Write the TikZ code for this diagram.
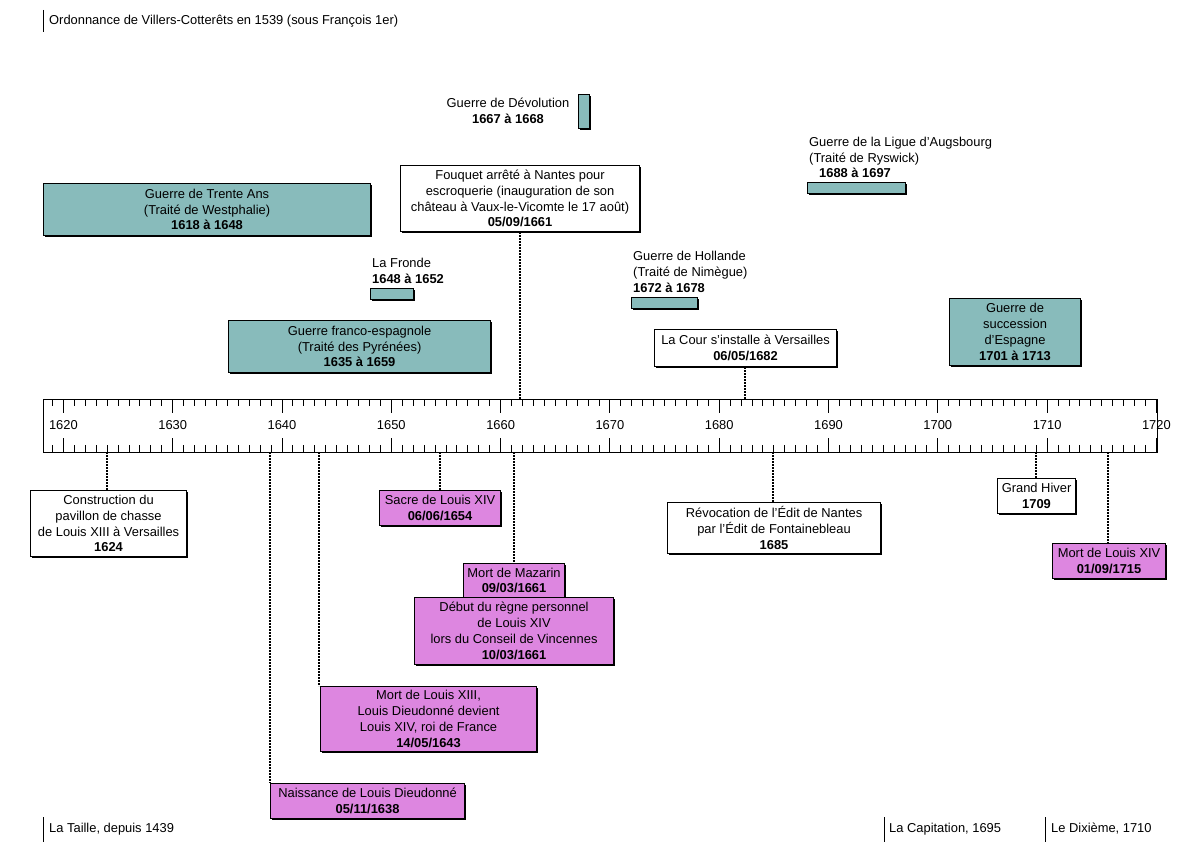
\documentclass[tikz,border=0pt]{standalone}
\usepackage{fontspec}
\setmainfont{Liberation Sans}
\usetikzlibrary{shadows}
\definecolor{tealbar}{RGB}{136,187,187}
\definecolor{pinkbox}{RGB}{221,134,224}
\newcommand{\frtxt}{\fontsize{12.9}{15.8}\selectfont}
\begin{document}
\begin{tikzpicture}[x=1pt,y=-1pt,
  evbox/.style={draw=black, line width=1.1pt, align=center, inner sep=0pt, anchor=north west, font=\frtxt,
    drop shadow={shadow xshift=1.2pt, shadow yshift=-1.2pt, fill=black, opacity=1}},
  wbox/.style={evbox, fill=white},
  tbox/.style={evbox, fill=tealbar},
  pbox/.style={evbox, fill=pinkbox},
  lbl/.style={inner sep=0pt, font=\frtxt, align=left},
  link/.style={line width=1.3pt, dash pattern=on 1.6pt off 1.4pt},
  axtick/.style={line width=0.9pt},
  notetxt/.style={inner sep=0pt, font=\frtxt, anchor=west},
  notebar/.style={line width=1pt}]
\useasboundingbox[fill=white] (0,0) rectangle (1200,850);

% notes
\node[notetxt] (ordo) at (49,21) {Ordonnance de Villers-Cotterêts en 1539 (sous François 1er)};
\draw[notebar] (43,10) -- (43,32);
\node[notetxt] (taille) at (49,829) {La Taille, depuis 1439};
\draw[notebar] (43,817) -- (43,842);
\node[notetxt] (capit) at (889,829) {La Capitation, 1695};
\draw[notebar] (884,817) -- (884,842);
\node[notetxt] (dixieme) at (1051,829) {Le Dixième, 1710};
\draw[notebar] (1045,817) -- (1045,842);

% axis
\node[draw, line width=1.2pt, minimum width=1114pt, minimum height=53pt, anchor=north west, inner sep=0pt] (axis) at (43,399) {};
\foreach \yr in {1619,...,1719}{
  \pgfmathsetmacro\xx{63.4+(\yr-1620)*10.93}
  \draw[axtick] (\xx,399) -- (\xx,406);
  \draw[axtick] (\xx,452) -- (\xx,445);
}
\foreach \yr in {1620,1630,...,1720}{
  \pgfmathsetmacro\xx{63.4+(\yr-1620)*10.93}
  \draw[axtick] (\xx,399) -- (\xx,413);
  \draw[axtick] (\xx,452) -- (\xx,438);
  \node[font=\frtxt, inner sep=0pt] (yl\yr) at (\xx,425.5) {\yr};
}

% wars (above)
\node[tbox, minimum width=327pt, minimum height=52pt] (trente) at (43,183) {Guerre de Trente Ans\\(Traité de Westphalie)\\\textbf{1618 à 1648}};
\node[tbox, minimum width=43pt, minimum height=11pt] (fronde) at (370,288) {};
\node[lbl, anchor=west] (frondelbl) at (372,270.5) {La Fronde\\\textbf{1648 à 1652}};
\node[tbox, minimum width=262pt, minimum height=52pt] (francoesp) at (228,320) {Guerre franco-espagnole\\(Traité des Pyrénées)\\\textbf{1635 à 1659}};
\node[tbox, minimum width=11pt, minimum height=34pt] (devol) at (578,94) {};
\node[lbl, align=center] (devollbl) at (508,111) {Guerre de Dévolution\\\textbf{1667 à 1668}};
\node[wbox, minimum width=239pt, minimum height=66pt] (fouquet) at (400,165) {Fouquet arrêté à Nantes pour\\escroquerie (inauguration de son\\château à Vaux-le-Vicomte le 17 août)\\\textbf{05/09/1661}};
\node[tbox, minimum width=66pt, minimum height=11pt] (hollande) at (631,297) {};
\node[lbl, anchor=west] (hollandelbl) at (633,272) {Guerre de Hollande\\(Traité de Nimègue)\\\textbf{1672 à 1678}};
\node[wbox, minimum width=182pt, minimum height=37pt] (cour) at (654,329) {La Cour s'installe à Versailles\\\textbf{06/05/1682}};
\node[tbox, minimum width=98pt, minimum height=11pt] (ligue) at (807,182) {};
\node[lbl, anchor=west] (liguelbl) at (809,157.5) {Guerre de la Ligue d'Augsbourg\\(Traité de Ryswick)\\\hspace*{10pt}\textbf{1688 à 1697}};
\node[tbox, minimum width=131pt, minimum height=67pt] (succ) at (949,298) {Guerre de\\succession\\d'Espagne\\\textbf{1701 à 1713}};

% events (below)
\node[wbox, minimum width=156pt, minimum height=66pt] (constr) at (30,490) {Construction du\\pavillon de chasse\\de Louis XIII à Versailles\\\textbf{1624}};
\node[pbox, minimum width=121pt, minimum height=35pt] (sacre) at (379,490) {Sacre de Louis XIV\\\textbf{06/06/1654}};
\node[pbox, minimum width=101pt, minimum height=34pt] (mazarin) at (463,563) {Mort de Mazarin\\\textbf{09/03/1661}};
\node[pbox, minimum width=199pt, minimum height=67pt] (debut) at (414,597) {Début du règne personnel\\de Louis XIV\\lors du Conseil de Vincennes\\\textbf{10/03/1661}};
\node[pbox, minimum width=216pt, minimum height=65pt] (louis13) at (320,686) {Mort de Louis XIII,\\Louis Dieudonné devient\\Louis XIV, roi de France\\\textbf{14/05/1643}};
\node[pbox, minimum width=194pt, minimum height=35pt] (naiss) at (270,783) {Naissance de Louis Dieudonné\\\textbf{05/11/1638}};
\node[wbox, minimum width=213pt, minimum height=51pt] (revoc) at (667,502) {Révocation de l'Édit de Nantes\\par l'Édit de Fontainebleau\\\textbf{1685}};
\node[wbox, minimum width=78pt, minimum height=35pt] (hiver) at (997,478) {Grand Hiver\\\textbf{1709}};
\node[pbox, minimum width=113pt, minimum height=35pt] (mort14) at (1052,543) {Mort de Louis XIV\\\textbf{01/09/1715}};

% axis anchor points
\coordinate (t1661) at (520,399);
\coordinate (t1682) at (745,399);
\coordinate (b1624) at (107,452);
\coordinate (b1638) at (270,452);
\coordinate (b1643) at (319,452);
\coordinate (b1654) at (440,452);
\coordinate (b1661) at (514,452);
\coordinate (b1685) at (773,452);
\coordinate (b1709) at (1036,452);
\coordinate (b1715) at (1108,452);

% connectors
\draw[link] (fouquet.south -| t1661) -- (t1661);
\draw[link] (cour.south -| t1682) -- (t1682);
\draw[link] (b1624) -- (constr.north -| b1624);
\draw[link] (b1638) -- (naiss.north -| b1638);
\draw[link] (b1643) -- (louis13.north -| b1643);
\draw[link] (b1654) -- (sacre.north -| b1654);
\draw[link] (b1661) -- (mazarin.north -| b1661);
\draw[link] (b1685) -- (revoc.north -| b1685);
\draw[link] (b1709) -- (hiver.north -| b1709);
\draw[link] (b1715) -- (mort14.north -| b1715);
\end{tikzpicture}
\end{document}
